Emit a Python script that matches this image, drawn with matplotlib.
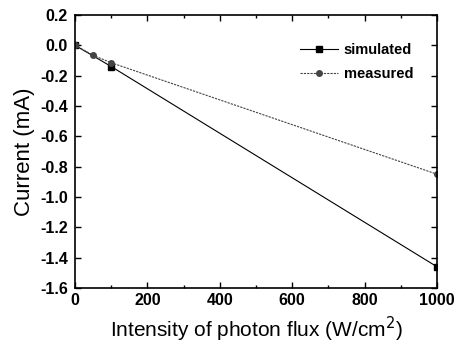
import matplotlib
matplotlib.use('Agg')
from matplotlib import pyplot as plt
from matplotlib.ticker import MultipleLocator

plt.rcParams['font.family'] = ['Liberation Sans', 'DejaVu Sans']

# simulated (squares, solid line)
sim_x = [0, 100, 1000]
sim_y = [0.0, -0.14, -1.46]
# measured (circles, dotted line)
meas_x = [0, 50, 100, 1000]
meas_y = [0.0, -0.066, -0.115, -0.85]

fig = plt.figure(figsize=(4.6, 3.47), dpi=100)
ax = fig.add_axes([0.163, 0.17, 0.787, 0.787])

ax.plot(sim_x, sim_y, color='black', lw=0.8, marker='s', ms=4, label='simulated')
ax.plot(meas_x, meas_y, color='#444444', lw=0.8, ls=(0, (2, 1)), marker='o', ms=4,
        label='measured')

ax.set_xlim(0, 1000)
ax.set_ylim(-1.6, 0.2)
ax.xaxis.set_major_locator(MultipleLocator(200))
ax.xaxis.set_minor_locator(MultipleLocator(100))
ax.set_yticks([0.2, 0.0, -0.2, -0.4, -0.6, -0.8, -1.0, -1.2, -1.4, -1.6])
ax.set_yticklabels(['0.2', '0.0', '-0.2', '-0.4', '-0.6', '-0.8', '-1.0', '-1.2', '-1.4', '-1.6'])
ax.tick_params(which='both', direction='in', top=True, right=True, labelsize=11.5, length=4, width=1)
ax.tick_params(which='minor', length=2.5)
ax.tick_params(axis='y', pad=5)
for lbl in ax.get_xticklabels() + ax.get_yticklabels():
    lbl.set_fontweight('bold')
for s in ax.spines.values():
    s.set_linewidth(1.2)

ax.set_xlabel('Intensity of photon flux (W/cm$^2$)', fontsize=15, labelpad=5)
ax.set_ylabel('Current (mA)', fontsize=16, labelpad=4)

leg = ax.legend(loc='upper right', bbox_to_anchor=(0.97, 0.945), frameon=False, fontsize=10.5,
                handlelength=2.6, handletextpad=0.4, labelspacing=0.7)
for t in leg.get_texts():
    t.set_fontweight('bold')

fig.savefig('out.png', dpi=100)
